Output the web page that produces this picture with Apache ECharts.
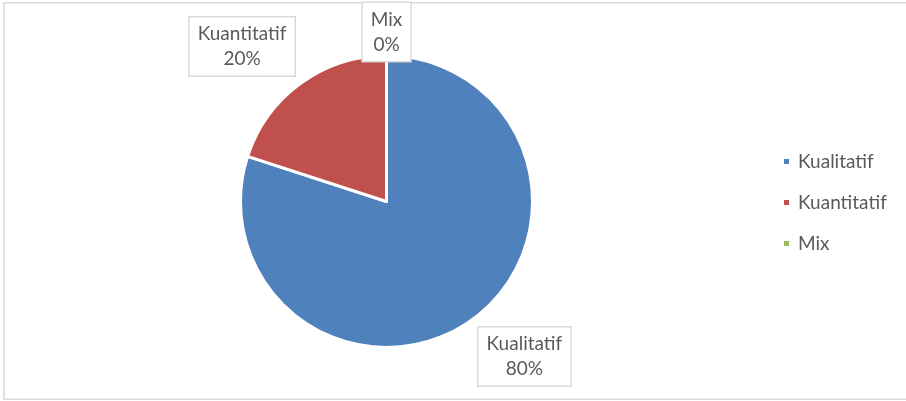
<!DOCTYPE html>
<html>
<head>
<meta charset="utf-8">
<script src="https://cdn.jsdelivr.net/npm/echarts@6/dist/echarts.min.js"></script>
<style>
  html, body { margin: 0; padding: 0; background: #fff; }
  #chart { width: 906px; height: 401px; }
</style>
</head>
<body>
<div id="chart"></div>
<script>
// Share of research approaches (percent)
const categories = ['Kualitatif', 'Kuantitatif', 'Mix'];
const shares = [80, 20, 0];
const sliceColors = ['#4F81BD', '#C0504D', '#9BBB59'];

const FONT = 'Lato, "Liberation Sans", sans-serif';
const TEXT_COLOR = '#595959';
const CX = 386.5, CY = 201.5, RADIUS = 146;

const total = shares.reduce((a, b) => a + b, 0);

// Angle (radians, clockwise from 12 o'clock) at the middle of slice i
function midAngle(i) {
  let before = 0;
  for (let k = 0; k < i; k++) before += shares[k];
  return 2 * Math.PI * (before + shares[i] / 2) / total;
}

const chart = echarts.init(document.getElementById('chart'), null, { renderer: 'canvas' });

chart.setOption({
  animation: false,
  backgroundColor: '#fff',
  graphic: [{
    type: 'rect',
    silent: true,
    shape: { x: 4, y: 2.75, width: 910, height: 396.5 },
    style: { fill: null, stroke: '#D9D9D9', lineWidth: 1.5 }
  }],
  legend: {
    orient: 'vertical',
    left: 782,
    top: 151.5,
    padding: 0,
    itemGap: 21,
    itemWidth: 7,
    itemHeight: 7,
    icon: 'rect',
    data: categories,
    textStyle: {
      fontFamily: FONT,
      fontSize: 19,
      lineHeight: 20,
      color: TEXT_COLOR,
      padding: [0, 0, 0, 3]
    }
  },
  series: [{
    type: 'pie',
    center: [CX, CY],
    radius: RADIUS,
    startAngle: 90,
    clockwise: true,
    data: categories.map((name, i) => ({
      name: name,
      value: shares[i],
      itemStyle: { color: sliceColors[i] }
    })),
    itemStyle: { borderColor: '#fff', borderWidth: 3 },
    emphasis: { disabled: true },
    label: {
      show: true,
      position: 'outside',
      formatter: p => p.name + '\n' + p.value + '%',
      fontFamily: FONT,
      fontSize: 19,
      lineHeight: 25,
      color: TEXT_COLOR,
      align: 'center',
      backgroundColor: '#fff',
      borderColor: '#D9D9D9',
      borderWidth: 1.5,
      padding: [4, 8]
    },
    labelLine: { show: false },
    // Put each label box just outside the rim, on the slice's mid-angle,
    // with the box corner facing the pie touching that point.
    labelLayout: function (p) {
      const a = midAngle(p.dataIndex);
      const dx = Math.sin(a), dy = -Math.cos(a);
      const top = Math.abs(dx) < 0.05;
      const d = top ? 139 : 154;
      const w = p.labelRect.width, h = p.labelRect.height;
      const sx = top ? 0 : Math.sign(dx);
      const sy = Math.sign(dy);
      return {
        x: CX + d * dx + sx * w / 2,
        y: CY + d * dy + sy * h / 2,
        align: 'center',
        verticalAlign: 'middle'
      };
    }
  }]
});
</script>
</body>
</html>
